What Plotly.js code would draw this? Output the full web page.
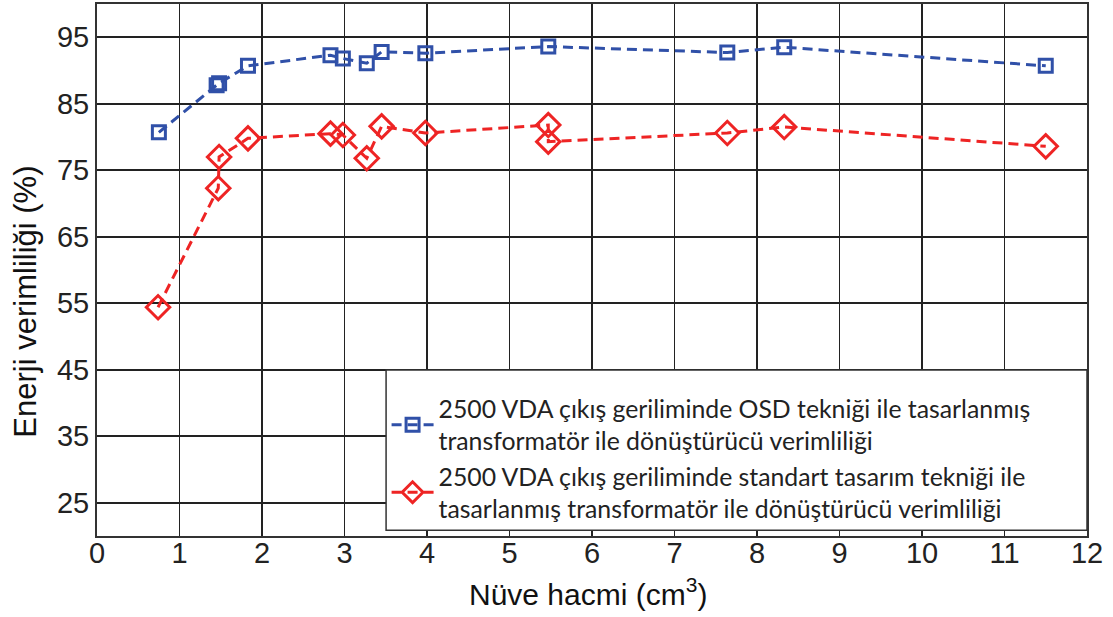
<!DOCTYPE html>
<html>
<head>
<meta charset="utf-8">
<script src="https://cdn.plot.ly/plotly-3.0.1.min.js"></script>
<style>
  html, body { margin: 0; padding: 0; background: #ffffff; }
  #chart { width: 1113px; height: 617px; }
</style>
</head>
<body>
<div id="chart"></div>
<script>
// Core volume (cm^3) and converter efficiency (%) for the two transformer designs
const osdVolume = [0.75, 1.45, 1.48, 1.83, 2.83, 2.98, 3.27, 3.45, 3.98, 5.47, 7.64, 8.33, 11.5];
const osdEfficiency = [80.7, 87.8, 88.1, 90.7, 92.3, 91.8, 91.1, 92.8, 92.6, 93.6, 92.7, 93.5, 90.7];

const stdVolume = [0.74, 1.47, 1.48, 1.83, 2.83, 2.98, 3.27, 3.45, 3.98, 5.47, 5.47, 7.64, 8.33, 11.5];
const stdEfficiency = [54.4, 72.3, 77.0, 79.8, 80.5, 80.3, 76.8, 81.6, 80.6, 81.8, 79.3, 80.6, 81.5, 78.6];

const seriesNames = [
  '2500 VDA çıkış geriliminde OSD tekniği ile tasarlanmış<br>transformatör ile dönüştürücü verimliliği',
  '2500 VDA çıkış geriliminde standart tasarım tekniği ile<br>tasarlanmış transformatör ile dönüştürücü verimliliği'
];

const xTitle = 'Nüve hacmi (cm<sup>3</sup>)';
const yTitle = 'Enerji verimliliği (%)';

const xTicks = [0, 1, 2, 3, 4, 5, 6, 7, 8, 9, 10, 11, 12];
const yTicks = [25, 35, 45, 55, 65, 75, 85, 95];

const blue = '#3050a8';
const red = '#ee2424';

const traces = [
  {
    x: osdVolume, y: osdEfficiency, name: seriesNames[0],
    type: 'scatter', mode: 'lines+markers',
    line: { color: blue, width: 3, dash: '10px,6px' },
    marker: { symbol: 'square-open', size: 13, color: blue, line: { width: 3, color: blue } }
  },
  {
    x: stdVolume, y: stdEfficiency, name: seriesNames[1],
    type: 'scatter', mode: 'lines+markers',
    line: { color: red, width: 3, dash: '10px,6px' },
    marker: { symbol: 'diamond-open', size: 18, color: red, line: { width: 3, color: red } }
  }
];

const sansFont = 'Liberation Sans, Arial, sans-serif';
const axisFont = { family: sansFont, size: 29, color: '#222' };

const layout = {
  width: 1113, height: 617,
  margin: { l: 97, r: 26, t: 4, b: 81, pad: 0 },
  paper_bgcolor: '#ffffff',
  plot_bgcolor: '#ffffff',
  showlegend: true,
  legend: {
    x: 0.2925, xanchor: 'left', y: 0.282, yanchor: 'top',
    bgcolor: 'rgba(0,0,0,0)', borderwidth: 0,
    font: { family: 'Lato, Carlito, sans-serif', size: 24.8, color: '#222' },
    itemwidth: 42
  },
  // framed white box behind the legend entries
  shapes: [
    {
      type: 'rect', xref: 'paper', yref: 'paper', layer: 'above',
      x0: 0.292, x1: 1, y0: 0.011, y1: 0.312,
      fillcolor: '#ffffff', line: { color: '#333', width: 1.5 }
    }
  ],
  annotations: [
    {
      text: xTitle, xref: 'paper', yref: 'paper', x: 0.496, y: -0.105,
      xanchor: 'center', yanchor: 'middle', showarrow: false,
      font: { family: sansFont, size: 30, color: '#111' }
    },
    {
      text: yTitle, xref: 'paper', yref: 'paper', x: -0.072, y: 0.44,
      xanchor: 'center', yanchor: 'middle', showarrow: false, textangle: -90,
      font: { family: sansFont, size: 31, color: '#111' }
    }
  ],
  xaxis: {
    range: [0, 12], tickvals: xTicks, ticktext: xTicks.map(String),
    showgrid: true, gridcolor: '#222', gridwidth: 1.6,
    showline: true, linecolor: '#333', linewidth: 2, mirror: true,
    zeroline: false, ticks: '', tickfont: axisFont, ticklabelstandoff: -10
  },
  yaxis: {
    range: [20, 100], tickvals: yTicks, ticktext: yTicks.map(String),
    showgrid: true, gridcolor: '#222', gridwidth: 1.6,
    showline: true, linecolor: '#333', linewidth: 2, mirror: true,
    zeroline: false, ticks: '', tickfont: axisFont
  }
};

Plotly.newPlot('chart', traces, layout, { displayModeBar: false, staticPlot: true });
</script>
</body>
</html>
